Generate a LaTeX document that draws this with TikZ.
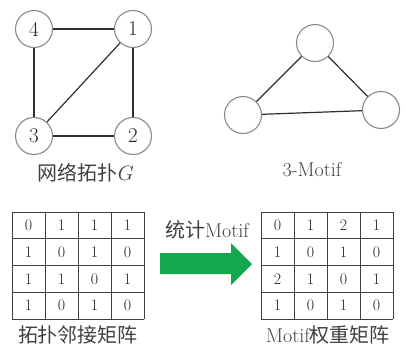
\documentclass[tikz,border=0pt]{standalone}
\usepackage{fontspec}
\newfontfamily\cjk{Noto Sans CJK SC}
\definecolor{nodeline}{HTML}{8A8A8A}
\definecolor{edgeline}{HTML}{2E2E2E}
\definecolor{flowgreen}{HTML}{12A84E}
\begin{document}
\begin{tikzpicture}[x=1pt,y=-1pt,
  vertex/.style={circle,draw=nodeline,line width=1.1pt,fill=white,minimum size=37pt,inner sep=0pt,font=\fontsize{21}{21}\selectfont,text=black!85},
  link/.style={draw=edgeline,line width=1.2pt},
  gridline/.style={draw=black!75,line width=0.9pt},
  cell/.style={inner sep=0pt,font=\fontsize{16}{16}\selectfont,text=black!85},
  caption/.style={font=\fontsize{20}{20}\selectfont,text=black!75}]
\useasboundingbox (0,0) rectangle (405,346);

% network topology G
\node[vertex] (g4) at (34,29) {4};
\node[vertex] (g1) at (133,29) {1};
\node[vertex] (g3) at (34,136) {3};
\node[vertex] (g2) at (133,136) {2};
\draw[link] (g4) -- (g1);
\draw[link] (g4) -- (g3);
\draw[link] (g1) -- (g2);
\draw[link] (g1) -- (g3);
\draw[link] (g3) -- (g2);
\node[caption] (gcap) at (86,173) {{\cjk 网络拓扑}$G$};

% 3-node motif
\node[vertex] (ma) at (315,43) {};
\node[vertex] (mb) at (243,115) {};
\node[vertex] (mc) at (381,110) {};
\draw[link] (ma) -- (mb);
\draw[link] (ma) -- (mc);
\draw[link] (mb) -- (mc);
\node[caption] (mcap) at (312,170) {3-Motif};

% adjacency matrix
\foreach \k in {0,...,4} {
  \draw[gridline] (12+33*\k,212) -- (12+33*\k,319);
  \draw[gridline] (12,212+26.75*\k) -- (144,212+26.75*\k);
}
\foreach \row [count=\i from 0] in {{0,1,1,1},{1,0,1,0},{1,1,0,1},{1,0,1,0}} {
  \foreach \v [count=\j from 0] in \row {
    \node[cell] (a\i\j) at (28.5+33*\j,225.4+26.75*\i) {\v};
  }
}
\node[caption] (acap) at (78,335) {\cjk 拓扑邻接矩阵};

% motif weight matrix
\foreach \k in {0,...,4} {
  \draw[gridline] (261+33*\k,212) -- (261+33*\k,319);
  \draw[gridline] (261,212+26.75*\k) -- (393,212+26.75*\k);
}
\foreach \row [count=\i from 0] in {{0,1,2,1},{1,0,1,0},{2,1,0,1},{1,0,1,0}} {
  \foreach \v [count=\j from 0] in \row {
    \node[cell] (w\i\j) at (277.5+33*\j,225.4+26.75*\i) {\v};
  }
}
\node[caption] (wcap) at (328,335) {Motif{\cjk 权重矩阵}};

% counting step: block arrow
\fill[flowgreen] (160,253) -- (231,253) -- (231,243) -- (252,264) -- (231,285)
  -- (231,274) -- (160,274) -- cycle;
\node[caption] (fcap) at (207,230) {{\cjk 统计}Motif};
\end{tikzpicture}
\end{document}
